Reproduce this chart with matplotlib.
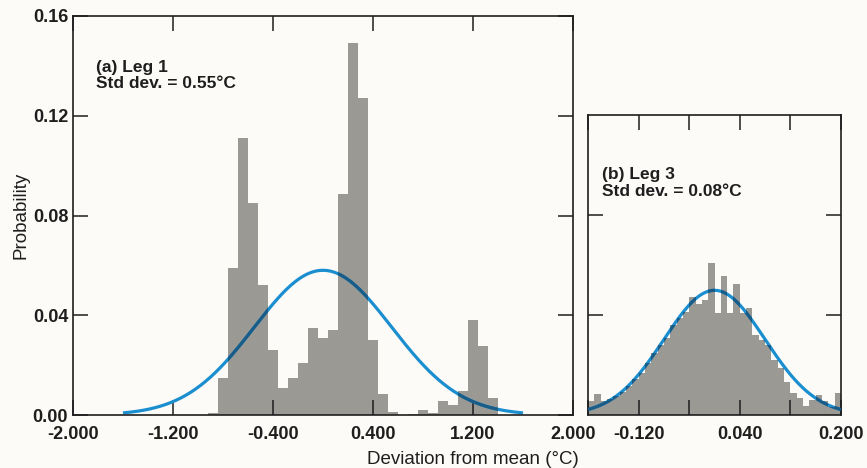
import numpy as np
import matplotlib
matplotlib.use("Agg")
import matplotlib.pyplot as plt
from matplotlib.path import Path

plt.rcParams['font.family'] = ['Liberation Sans', 'DejaVu Sans']
plt.rcParams['axes.unicode_minus'] = False

# (a) Leg 1 histogram: bins of 0.08 starting at -0.92
bin_start_a = -0.92
bin_width_a = 0.08
prob_a = [0.001, 0.015, 0.059, 0.111, 0.085, 0.052, 0.026, 0.011, 0.015, 0.021,
          0.035, 0.031, 0.034, 0.0885, 0.149, 0.127, 0.030, 0.0085, 0.0012, 0.0,
          0.0003, 0.0019, 0.001, 0.0057, 0.0039, 0.0096, 0.038, 0.0276, 0.0067]
std_a = 0.55

# (b) Leg 3 histogram: bins of 0.01 from -0.2 to 0.2
bin_start_b = -0.20
bin_width_b = 0.01
prob_b = [0.0057, 0.0084, 0.0057, 0.0065, 0.0075, 0.0093, 0.0115, 0.0145, 0.017, 0.0207,
          0.0247, 0.028, 0.031, 0.036, 0.039, 0.0413, 0.0473, 0.0444, 0.046, 0.061,
          0.041, 0.0556, 0.041, 0.0524, 0.041, 0.043, 0.032, 0.030, 0.028, 0.022,
          0.019, 0.0133, 0.0087, 0.0067, 0.0036, 0.006, 0.008, 0.0057, 0.0033, 0.0087]
std_b = 0.08

bg = '#fcfbf8'
bar_color = '#9b9994'
blue = '#1b8ed0'
dark_blue = '#195c87'
ink = '#1e1e1e'

fig = plt.figure(figsize=(8.67, 4.68), dpi=100, facecolor=bg)
ax1 = fig.add_axes([73 / 867, 53 / 468, 500 / 867, 399 / 468], facecolor=bg)
ax2 = fig.add_axes([588 / 867, 53 / 468, 253 / 867, 300 / 468], facecolor=bg)


def draw_panel(ax, start, width, probs, std, xlim, curve_lim):
    edges = start + width * np.arange(len(probs))
    bars = ax.bar(edges, probs, width=width, align='edge', color=bar_color,
                  linewidth=0, zorder=1)
    # fitted normal curve, scaled to bin width
    xs = np.linspace(curve_lim[0], curve_lim[1], 400)
    ys = width * np.exp(-xs ** 2 / (2 * std ** 2)) / (std * np.sqrt(2 * np.pi))
    ax.plot(xs, ys, color=blue, lw=2.3, zorder=2, solid_capstyle='butt')
    # darker where the curve crosses the bars
    dark, = ax.plot(xs, ys, color=dark_blue, lw=2.3, zorder=3, solid_capstyle='butt')
    paths = [b.get_path().transformed(b.get_patch_transform()) for b in bars]
    dark.set_clip_path(Path.make_compound_path(*paths), ax.transData)
    ax.set_xlim(*xlim)
    for s in ax.spines.values():
        s.set_color(ink)
        s.set_linewidth(1.2)
    ax.tick_params(direction='in', length=11, width=1.1, color=ink,
                   top=True, right=True, labelsize=13, labelcolor=ink)
    ax.tick_params(axis='x', pad=8)
    ax.tick_params(axis='y', pad=3.5)


draw_panel(ax1, bin_start_a, bin_width_a, prob_a, std_a, (-2.0, 2.0), (-1.6, 1.6))
ax1.set_ylim(0, 0.16)
ax1.set_xticks(np.arange(-2.0, 2.01, 0.8))
ax1.set_xticklabels(['-2.000', '-1.200', '-0.400', '0.400', '1.200', '2.000'],
                    fontweight='bold')
ax1.set_yticks([0, 0.04, 0.08, 0.12, 0.16])
ax1.set_yticklabels(['0.00', '0.04', '0.08', '0.12', '0.16'], fontweight='bold')
ax1.set_ylabel('Probability', fontsize=13.5, color=ink, labelpad=2)
ax1.text(0.045, 0.89, '(a) Leg 1\nStd dev. = 0.55°C', transform=ax1.transAxes,
         fontsize=12.5, fontweight='bold', color=ink, va='top', linespacing=1.1)

draw_panel(ax2, bin_start_b, bin_width_b, prob_b, std_b, (-0.2, 0.2), (-0.2, 0.2))
ax2.set_ylim(0, 0.12)
ax2.set_yticks([0.04, 0.08])
ax2.set_yticklabels([])
xt_b = np.arange(-0.2, 0.201, 0.08)
ax2.set_xticks(xt_b)
ax2.set_xticklabels(['', '-0.120', '', '0.040', '', '0.200'], fontweight='bold')
ax2.text(0.055, 0.825, '(b) Leg 3\nStd dev. = 0.08°C', transform=ax2.transAxes,
         fontsize=12.5, fontweight='bold', color=ink, va='top', linespacing=1.1)

fig.text(473 / 867, 1 - 459 / 468, 'Deviation from mean (°C)', ha='center', va='center',
         fontsize=13.5, color=ink)

plt.savefig('out.png', dpi=100, facecolor=bg)
plt.close()
